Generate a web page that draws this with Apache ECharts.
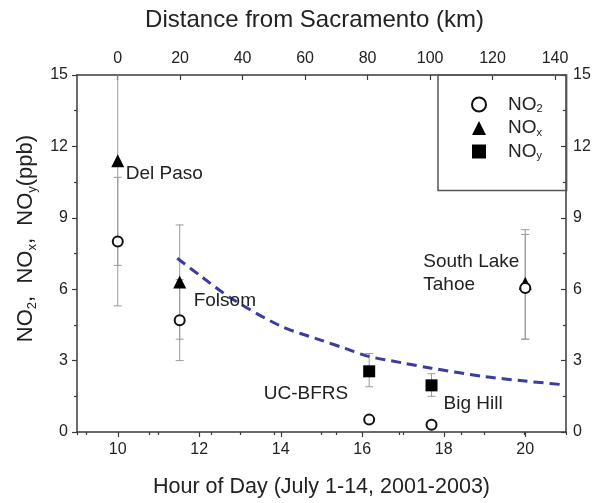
<!DOCTYPE html>
<html><head><meta charset="utf-8">
<script src="https://cdn.jsdelivr.net/npm/echarts@6/dist/echarts.min.js"></script>
<style>html,body{margin:0;padding:0;background:#fff}#c{width:594px;height:503px}</style>
</head><body><div id="c"></div>
<script>
// ---- data ----
const hourTicks = [10, 12, 14, 16, 18, 20];
const hourMinorTicks = [9, 11, 13, 15, 17, 19, 21];
const kmTicks = [0, 20, 40, 60, 80, 100, 120, 140];
const kmMinorTicks = [-10, 10, 30, 50, 70, 90, 110, 130];

const sites = ['Del Paso', 'Folsom', 'UC-BFRS', 'Big Hill', 'South Lake\nTahoe'];
const siteHours = [10, 11.52, 16.17, 17.70, 20.0];
const siteAnchor = [11.4, 6.3, 2.55, 1.96, 6.1];

const no2 = [[10, 8.0], [11.52, 4.7], [16.17, 0.52], [17.70, 0.3], [20.0, 6.05]];
const no2Err = [[10, 5.3, 10.7], [11.52, 3.0, 6.4], [20.0, 3.9, 8.3]];
const nox = [[10, 11.4], [11.52, 6.3], [20.0, 6.25]];
const noxErr = [[10, 7.0, 15.8], [11.52, 3.9, 8.7], [20.0, 3.9, 8.5]];
const noy = [[16.17, 2.55], [17.70, 1.96]];
const noyErr = [[16.17, 1.9, 3.3], [17.70, 1.5, 2.45]];

const fitHours = [11.46, 12.0, 12.8, 14.0, 15.0, 15.6, 16.1, 17.0, 17.7, 19.0, 20.0, 20.85];
const fitValues = [7.3, 6.6, 5.6, 4.45, 3.85, 3.5, 3.2, 2.9, 2.68, 2.33, 2.14, 2.0];

// ---- styles ----
const FONT = '"Liberation Sans", Arial, Helvetica, sans-serif';
const AXC = '#3a3a3a';
const TXT = '#222';
const labelLayout = [
  { offset: [8, 13], align: 'left' },
  { offset: [14, 19], align: 'left' },
  { offset: [-21, 22], align: 'right' },
  { offset: [12, 18], align: 'left' },
  { offset: [-102, -14], align: 'left' }
];

function errRender(params, api) {
  const x = api.value(0), lo = api.value(1), hi = api.value(2);
  const cs = params.coordSys;
  const top = cs.y, bottom = cs.y + cs.height;
  const pLo = api.coord([x, lo]), pHi = api.coord([x, hi]);
  const yHi = Math.max(pHi[1], top), yLo = Math.min(pLo[1], bottom);
  const st = { stroke: '#9a9a9a', lineWidth: 1 };
  const cw = 4;
  const ch = [{ type: 'line', shape: { x1: pLo[0], y1: yLo, x2: pLo[0], y2: yHi }, style: st }];
  if (pHi[1] >= top) ch.push({ type: 'line', shape: { x1: pHi[0] - cw, y1: pHi[1], x2: pHi[0] + cw, y2: pHi[1] }, style: st });
  if (pLo[1] <= bottom) ch.push({ type: 'line', shape: { x1: pLo[0] - cw, y1: pLo[1], x2: pLo[0] + cw, y2: pLo[1] }, style: st });
  return { type: 'group', children: ch };
}

const legendRich = {
  m: { fontSize: 19, fontFamily: FONT, color: TXT, lineHeight: 20, verticalAlign: 'middle' },
  s: { fontSize: 11, fontFamily: FONT, color: TXT, lineHeight: 6, verticalAlign: 'bottom' },
  g: { width: 17 }
};
const nameRich = {
  m: { fontSize: 22, fontFamily: FONT, color: TXT, lineHeight: 26, verticalAlign: 'middle' },
  s: { fontSize: 13, fontFamily: FONT, color: TXT, lineHeight: 8, verticalAlign: 'bottom' }
};
const legendNames = { 'NO2': '2', 'NOx': 'x', 'NOy': 'y' };

const chart = echarts.init(document.getElementById('c'), null, { renderer: 'canvas' });
const axisLabelBase = { fontSize: 16, color: TXT, fontFamily: FONT };

const errSeries = (data, name) => ({
  type: 'custom', name: name, renderItem: errRender, data: data,
  encode: { x: 0, y: [1, 2] }, z: 1, silent: true
});

chart.setOption({
  animation: false,
  backgroundColor: '#fff',
  grid: { left: 77, right: 28, top: 75, bottom: 68, containLabel: false },
  legend: {
    data: ['NO2', 'NOx', 'NOy'],
    orient: 'vertical', left: 438, top: 75,
    padding: [20, 24, 29, 33],
    itemWidth: 14, itemHeight: 14, itemGap: 4,
    borderColor: '#555', borderWidth: 1.5, borderRadius: 0,
    formatter: n => '{g| }{m|NO}{s|' + legendNames[n] + '}',
    textStyle: { rich: legendRich }
  },
  xAxis: [
    {
      type: 'value', position: 'bottom', min: 9, max: 21,
      name: 'Hour of Day (July 1-14, 2001-2003)', nameLocation: 'middle', nameGap: 44,
      nameTextStyle: { fontSize: 21.5, color: TXT, fontFamily: FONT },
      axisLine: { show: true, onZero: false, lineStyle: { color: AXC, width: 1.5 } },
      axisTick: { show: true, customValues: hourTicks, length: 5, lineStyle: { color: AXC, width: 1.2 } },
      axisLabel: Object.assign({ customValues: hourTicks, margin: 10 }, axisLabelBase),
      splitLine: { show: false }
    },
    {
      type: 'value', position: 'bottom', min: 9, max: 21,
      axisLine: { show: false },
      axisTick: { show: true, customValues: hourMinorTicks, length: 3, lineStyle: { color: AXC, width: 1.2 } },
      axisLabel: { show: false }, splitLine: { show: false }
    },
    {
      type: 'value', position: 'top', min: -13, max: 143.5,
      name: 'Distance from Sacramento (km)', nameLocation: 'middle', nameGap: 43,
      nameTextStyle: { fontSize: 24, color: TXT, fontFamily: FONT, padding: [0, 14, 0, 0] },
      axisLine: { show: true, onZero: false, lineStyle: { color: AXC, width: 1.5 } },
      axisTick: { show: true, inside: true, customValues: kmTicks, length: 5, lineStyle: { color: AXC, width: 1.2 } },
      axisLabel: Object.assign({ customValues: kmTicks, margin: 8 }, axisLabelBase),
      splitLine: { show: false }
    },
    {
      type: 'value', position: 'top', min: -13, max: 143.5,
      axisLine: { show: false },
      axisTick: { show: true, inside: true, customValues: kmMinorTicks, length: 3, lineStyle: { color: AXC, width: 1.2 } },
      axisLabel: { show: false }, splitLine: { show: false }
    }
  ],
  yAxis: [
    {
      type: 'value', position: 'left', min: 0, max: 15, interval: 3,
      name: '{m|NO}{s|2}{m|,  NO}{s|x}{m|,  NO}{s|y}{m|(ppb)}', nameLocation: 'middle', nameGap: 35,
      nameRotate: 90,
      nameTextStyle: { rich: nameRich, padding: [0, 0, 0, 30] },
      axisLine: { show: true, onZero: false, lineStyle: { color: AXC, width: 1.5 } },
      axisTick: { show: true, length: 5, lineStyle: { color: AXC, width: 1.2 } },
      minorTick: { show: true, splitNumber: 2, length: 3, lineStyle: { color: AXC, width: 1.2 } },
      axisLabel: Object.assign({ margin: 9 }, axisLabelBase),
      splitLine: { show: false }
    },
    {
      type: 'value', position: 'right', min: 0, max: 15, interval: 3,
      axisLine: { show: true, onZero: false, lineStyle: { color: AXC, width: 1.5 } },
      axisTick: { show: true, inside: true, length: 5, lineStyle: { color: AXC, width: 1.2 } },
      minorTick: { show: true, splitNumber: 2, length: 3, lineStyle: { color: AXC, width: 1.2 } },
      axisLabel: Object.assign({ margin: 7 }, axisLabelBase),
      splitLine: { show: false }
    }
  ],
  series: [
    errSeries(no2Err, 'errNO2'),
    errSeries(noxErr, 'errNOx'),
    errSeries(noyErr, 'errNOy'),
    {
      type: 'line', name: 'fit', data: fitHours.map((h, i) => [h, fitValues[i]]),
      showSymbol: false, symbol: 'none', smooth: 0.3, z: 2, silent: true,
      lineStyle: { color: '#3b3ba0', width: 3, type: [10, 6] }
    },
    {
      type: 'scatter', name: 'NOx', data: nox, symbol: 'triangle', symbolSize: 13, z: 3,
      itemStyle: { color: '#000', opacity: 1 }
    },
    {
      type: 'scatter', name: 'NO2', data: no2, symbol: 'emptyCircle', symbolSize: 10, z: 4,
      itemStyle: { color: '#111', borderColor: '#111', borderWidth: 1.8, opacity: 1 }
    },
    {
      type: 'scatter', name: 'NOy', data: noy, symbol: 'rect', symbolSize: 12, z: 3,
      itemStyle: { color: '#000', opacity: 1 }
    },
    {
      type: 'scatter', name: 'sites', symbolSize: 1, z: 5, silent: true,
      itemStyle: { color: 'rgba(0,0,0,0)', opacity: 1 },
      data: sites.map((s, i) => ({
        name: s, value: [siteHours[i], siteAnchor[i]],
        label: {
          show: true, position: 'inside', formatter: '{b}',
          offset: labelLayout[i].offset, align: labelLayout[i].align, verticalAlign: 'middle',
          fontSize: 19, lineHeight: 23, color: TXT, fontFamily: FONT
        }
      }))
    }
  ]
});
</script></body></html>
